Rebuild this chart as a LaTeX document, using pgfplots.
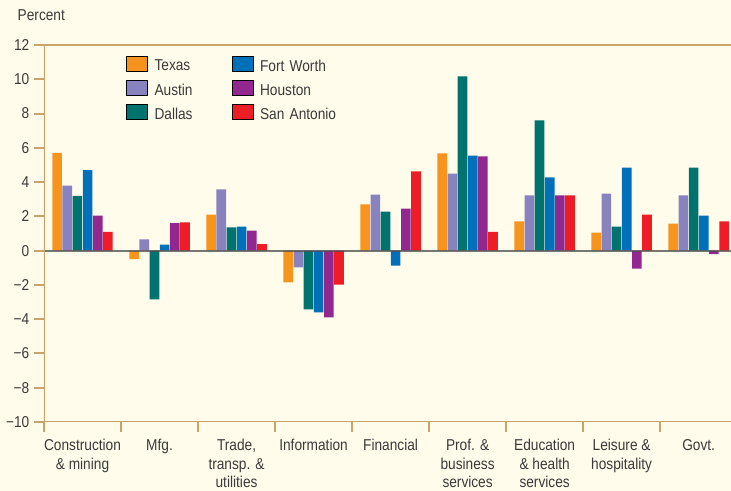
\documentclass[border=0pt]{standalone}
\usepackage{fontspec}
\setmainfont{Liberation Sans}[FakeStretch=0.87]
\usepackage{xcolor}
\usepackage{pgfplots}
\usepackage{pgfplotstable}
\pgfplotsset{compat=1.18}
\usetikzlibrary{calc}

\definecolor{cream}{HTML}{FFFCEB}
\definecolor{tan}{HTML}{C8A46A}
\definecolor{txt}{HTML}{3A3A3A}
\definecolor{texas}{HTML}{F7941E}
\definecolor{austin}{HTML}{8882BE}
\definecolor{dallas}{HTML}{00736F}
\definecolor{fortworth}{HTML}{0070BA}
\definecolor{houston}{HTML}{92278F}
\definecolor{sanantonio}{HTML}{EE1C25}

% job growth by sector, percent
\pgfplotstableread{
cat Texas Austin Dallas FortWorth Houston SanAntonio
0 5.70 3.80 3.20 4.70 2.05 1.10
1 -0.50 0.65 -2.85 0.35 1.60 1.65
2 2.10 3.57 1.35 1.40 1.17 0.38
3 -1.85 -0.97 -3.43 -3.60 -3.90 -1.99
4 2.70 3.27 2.28 -0.88 2.45 4.62
5 5.67 4.50 10.17 5.55 5.50 1.10
6 1.70 3.22 7.60 4.27 3.22 3.22
7 1.05 3.33 1.40 4.85 -1.05 2.10
8 1.58 3.22 4.85 2.05 -0.20 1.70
}\jobs

\newcommand{\lbl}{\fontsize{11.8}{13.9}\selectfont\color{txt}}

\begin{document}
\begin{tikzpicture}
\fill[cream] (-33pt,-51.75pt) rectangle (515.25pt,316.5pt);
\begin{axis}[
    at={(0,0)}, anchor=south west,
    width=515.25pt, height=282.75pt,
    scale only axis,
    xmin=-0.5, xmax=8.42,
    ymin=-10, ymax=12,
    axis line style={draw=none},
    ytick={-10,-8,...,12},
    yticklabels={−10,−8,−6,−4,−2,0,2,4,6,8,10,12},
    ytick pos=left,
    xtick={0,...,8},
    xtick pos=bottom,
    xticklabels={{Construction\\\& mining}, Mfg., {Trade,\\transp. \&\\utilities}, Information, Financial, {Prof. \&\\business\\services}, {Education\\\& health\\services}, {Leisure \&\\hospitality}, Govt.},
    minor xtick={-0.5,0.5,...,7.5},
    tick align=outside,
    major tick length=7.5pt,
    minor tick length=7.5pt,
    ytick style={draw=tan, line width=1.5pt},
    major x tick style={draw=none},
    minor x tick style={draw=tan, line width=1.5pt},
    yticklabel style={font=\lbl},
    xticklabel style={font=\lbl, align=center, anchor=north, yshift=-2pt},
    ybar,
    bar width=0.125,
    legend columns=2,
    legend image code/.code={\fill[#1] (0pt,-3.5pt) rectangle (15.75pt,7.75pt);},
    legend style={at={(0.119,0.972)}, anchor=north west, draw=none, fill=none,
        inner sep=0pt, row sep=5.25pt,
        nodes={inner sep=0pt, font=\lbl, text width=57pt, align=left},
        /tikz/every odd column/.append style={column sep=5.25pt},
        /tikz/every even column/.append style={column sep=0.75pt}},
]
\addplot[fill=texas, draw=none, bar shift=-0.33, forget plot] table[x=cat, y=Texas] {\jobs};
\addplot[fill=austin, draw=none, bar shift=-0.198, forget plot] table[x=cat, y=Austin] {\jobs};
\addplot[fill=dallas, draw=none, bar shift=-0.066, forget plot] table[x=cat, y=Dallas] {\jobs};
\addplot[fill=fortworth, draw=none, bar shift=0.066, forget plot] table[x=cat, y=FortWorth] {\jobs};
\addplot[fill=houston, draw=none, bar shift=0.198, forget plot] table[x=cat, y=Houston] {\jobs};
\addplot[fill=sanantonio, draw=none, bar shift=0.33, forget plot] table[x=cat, y=SanAntonio] {\jobs};

\addlegendimage{fill=texas}\addlegendentry{Texas}
\addlegendimage{fill=fortworth}\addlegendentry{Fort Worth}
\addlegendimage{fill=austin}\addlegendentry{Austin}
\addlegendimage{fill=houston}\addlegendentry{Houston}
\addlegendimage{fill=dallas}\addlegendentry{Dallas}
\addlegendimage{fill=sanantonio}\addlegendentry{\mbox{San Antonio}}

\draw[black!70, opacity=0.75, line width=1.5pt] (axis cs:-0.5,0) -- (axis cs:8.42,0);
\draw[tan, line width=1.5pt] (rel axis cs:1,1) -- (rel axis cs:0,1) -- (rel axis cs:0,0) -- (rel axis cs:1,0);
\end{axis}
\node[anchor=base west, font=\lbl] at (-23.25pt,300.75pt) {Percent};
\pgfresetboundingbox
\useasboundingbox (-33pt,-51.75pt) rectangle (515.25pt,316.5pt);
\end{tikzpicture}
\end{document}
